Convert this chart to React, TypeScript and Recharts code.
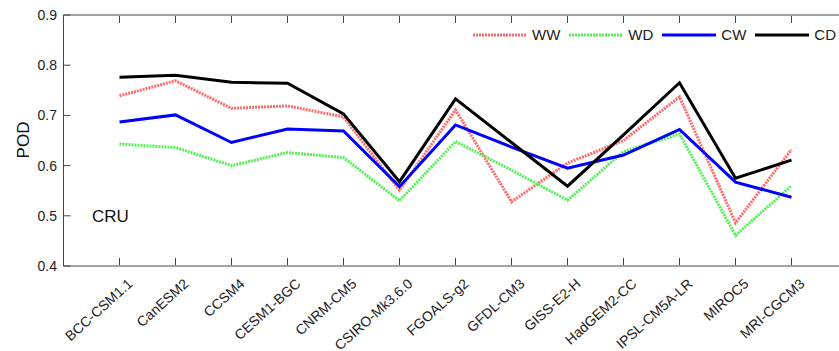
import React from 'react';
import { LineChart, Line, XAxis, YAxis, Legend } from 'recharts';

const models = [
    'BCC-CSM1.1', 'CanESM2', 'CCSM4', 'CESM1-BGC', 'CNRM-CM5', 'CSIRO-Mk3.6.0', 'FGOALS-g2',
    'GFDL-CM3', 'GISS-E2-H', 'HadGEM2-CC', 'IPSL-CM5A-LR', 'MIROC5', 'MRI-CGCM3',
];
const ww = [0.739, 0.769, 0.714, 0.719, 0.697, 0.551, 0.711, 0.528, 0.605, 0.650, 0.737, 0.486, 0.632];
const wd = [0.643, 0.636, 0.600, 0.626, 0.616, 0.530, 0.648, 0.591, 0.531, 0.628, 0.663, 0.461, 0.560];
const cw = [0.687, 0.701, 0.646, 0.673, 0.669, 0.558, 0.681, 0.637, 0.595, 0.621, 0.672, 0.567, 0.537];
const cd = [0.776, 0.780, 0.766, 0.764, 0.703, 0.568, 0.733, 0.646, 0.559, 0.661, 0.765, 0.575, 0.611];
const yTicks = [0.4, 0.5, 0.6, 0.7, 0.8, 0.9];

const data = models.map((m, i) => ({ pos: i + 1, model: m, WW: ww[i], WD: wd[i], CW: cw[i], CD: cd[i] }));
const xTicks = models.map((_, i) => i + 1);

const series = [
    { key: 'WW', color: '#ff6b6b', dash: '2 1' },
    { key: 'WD', color: '#55f055', dash: '2 1' },
    { key: 'CW', color: '#0000ff', dash: undefined },
    { key: 'CD', color: '#000000', dash: undefined },
];

const font = '"Liberation Sans", Arial, sans-serif';
const axisColor = '#444';

// bottom labels, plus the inward tick marks
const ModelTick = (props: any) => {
    const { x, y, payload } = props;
    const label = models[payload.value - 1];
    const ax = x + 14;
    const ay = y + 19;
    return (
        <g>
            <line x1={x} y1={y - 1} x2={x} y2={y - 8} stroke={axisColor} />
            <text x={ax} y={ay} textAnchor="end" fontSize={14} fill="#222" fontFamily={font}
                transform={`rotate(-42 ${ax} ${ay})`}>
                {label}
            </text>
        </g>
    );
};

const TopTick = (props: any) => {
    const { x, y } = props;
    return <line x1={x} y1={y + 1} x2={x} y2={y + 8} stroke={axisColor} />;
};

const ValueTick = (props: any) => {
    const { x, y, payload } = props;
    return (
        <g>
            <line x1={x + 6.5} y1={y} x2={x + 13.5} y2={y} stroke={axisColor} />
            <text x={x} y={y} dy={5} textAnchor="end" fontSize={14} fill="#222" fontFamily={font}>
                {payload.value.toFixed(1)}
            </text>
        </g>
    );
};

const LegendBox = () => (
    <div style={{ display: 'flex', alignItems: 'center', fontFamily: font, fontSize: 15, color: '#222' }}>
        {series.map(s => (
            <div key={s.key} style={{ display: 'flex', alignItems: 'center', marginRight: 9 }}>
                <svg width={54} height={6} style={{ display: 'block' }}>
                    <line x1={0} y1={3} x2={54} y2={3} stroke={s.color} strokeWidth={3} strokeDasharray={s.dash} />
                </svg>
                <span style={{ marginLeft: 5 }}>{s.key}</span>
            </div>
        ))}
    </div>
);

export default function App() {
    return (
        <div style={{ position: 'absolute', left: 0, top: 0, width: 839, height: 351, overflow: 'hidden', background: '#fff' }}>
            <LineChart width={848} height={351} data={data} margin={{ top: 14, right: 0.5, bottom: 84, left: 0.5 }}>
                <XAxis dataKey="pos" type="number" domain={[0, 14]} ticks={xTicks} height={1}
                    tick={<ModelTick />} tickLine={false} tickSize={0} tickMargin={0}
                    axisLine={{ stroke: axisColor }} />
                <XAxis xAxisId="top" orientation="top" dataKey="pos" type="number" domain={[0, 14]} ticks={xTicks}
                    height={1} tick={<TopTick />} tickLine={false} tickSize={0} tickMargin={0}
                    axisLine={{ stroke: axisColor }} />
                <YAxis type="number" domain={[0.4, 0.9]} ticks={yTicks} width={63} tickSize={0} tickMargin={6.5}
                    tick={<ValueTick />} tickLine={false}
                    axisLine={{ stroke: axisColor }} />
                <Legend layout="horizontal" align="center" verticalAlign="middle" content={<LegendBox />}
                    wrapperStyle={{ left: 473, top: 26, width: 400 }} />
                {series.map(s => (
                    <Line key={s.key} dataKey={s.key} type="linear" stroke={s.color} strokeWidth={3}
                        strokeDasharray={s.dash} dot={false} activeDot={false} isAnimationActive={false} />
                ))}
            </LineChart>
            <div style={{ position: 'absolute', left: 92, top: 208, fontFamily: font, fontSize: 17, lineHeight: 1, color: '#111' }}>
                CRU
            </div>
            <div style={{
                position: 'absolute', left: 22.5, top: 140, fontFamily: font, fontSize: 17, lineHeight: 1, color: '#111',
                transform: 'translate(-50%, -50%) rotate(-90deg)',
            }}>
                POD
            </div>
        </div>
    );
}
